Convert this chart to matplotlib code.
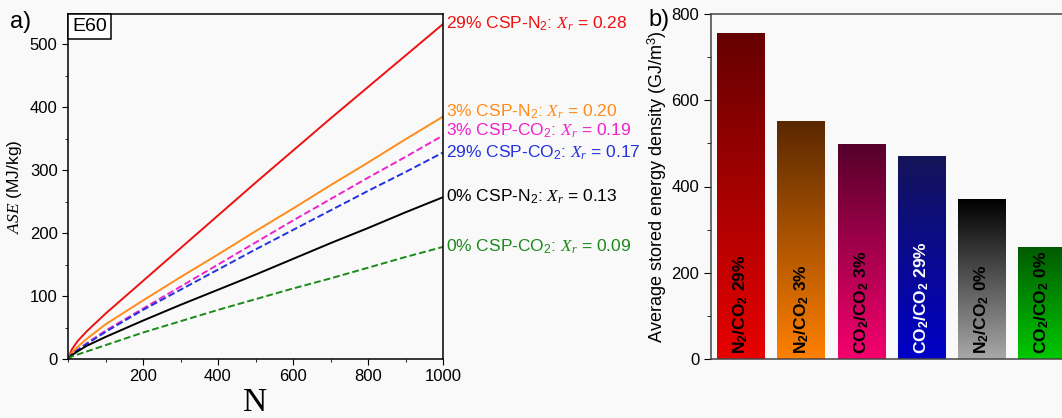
import numpy as np
import matplotlib
matplotlib.use('Agg')
import matplotlib.pyplot as plt
from matplotlib.colors import LinearSegmentedColormap
from matplotlib.ticker import MultipleLocator
from matplotlib.transforms import offset_copy

plt.rcParams['font.family'] = ['Liberation Sans', 'DejaVu Sans']
plt.rcParams['mathtext.fontset'] = 'custom'
plt.rcParams['mathtext.rm'] = 'Liberation Sans'
plt.rcParams['mathtext.bf'] = 'Liberation Sans:bold'
plt.rcParams['mathtext.it'] = 'Liberation Serif:italic'

# ---- panel a) data ----
N = [0, 10, 25, 50, 100, 200, 300, 400, 500, 600, 700, 800, 900, 1000]
ase_29_n2 = [0, 15, 28, 44, 72, 124, 176, 228, 280, 331, 382, 432, 482, 532]
ase_3_n2 = [0, 10, 19, 32, 55, 93, 130, 166, 203, 239, 276, 312, 349, 385]
ase_3_co2 = [0, 7, 14, 25, 45, 80, 115, 150, 185, 220, 254, 288, 321, 355]
ase_29_co2 = [0, 7, 14, 24, 43, 78, 110, 142, 174, 205, 236, 267, 297, 328]
ase_0_n2 = [0, 6, 12, 21, 35, 61, 86, 110, 134, 159, 184, 208, 233, 257]
ase_0_co2 = [0, 4, 7, 12, 22, 42, 60, 78, 95, 112, 128, 145, 162, 178]

series = [ase_29_n2, ase_3_n2, ase_3_co2, ase_29_co2, ase_0_n2, ase_0_co2]
line_colors = ['#ee1111', '#ff8c1a', '#ee22cc', '#2233dd', '#000000', '#1a8a1a']
line_styles = ['-', '-', '--', '--', '-', '--']
end_labels = ['29% CSP-N$_2$: $X_r$ = 0.28', '3% CSP-N$_2$: $X_r$ = 0.20',
              '3% CSP-CO$_2$: $X_r$ = 0.19', '29% CSP-CO$_2$: $X_r$ = 0.17',
              '0% CSP-N$_2$: $X_r$ = 0.13', '0% CSP-CO$_2$: $X_r$ = 0.09']
label_y = [532, 392, 363, 327, 257, 178]

# ---- panel b) data ----
bar_labels = [r'$\mathbf{N_2/CO_2}$ 29%', r'$\mathbf{N_2/CO_2}$ 3%',
              r'$\mathbf{CO_2/CO_2}$ 3%', r'$\mathbf{CO_2/CO_2}$ 29%',
              r'$\mathbf{N_2/CO_2}$ 0%', r'$\mathbf{CO_2/CO_2}$ 0%']
bar_values = [754, 550, 497, 469, 371, 259]
bar_top = ['#650000', '#5a2800', '#55002a', '#141458', '#000000', '#005a00']
bar_bottom = ['#e80000', '#ff8000', '#f5006e', '#0000c8', '#a8a8a8', '#00c800']
bar_text = ['black', 'black', 'black', 'white', 'black', 'black']

W, H = 1062, 418
fig = plt.figure(figsize=(W / 100, H / 100), dpi=100, facecolor='#f9f9f9')

def px_axes(x0, y0, x1, y1):
    return fig.add_axes([x0 / W, 1 - y1 / H, (x1 - x0) / W, (y1 - y0) / H])

# ---------------- a) ----------------
ax = px_axes(68, 14, 443, 359)
ax.set_facecolor('#f9f9f9')
for s, c, ls in zip(series, line_colors, line_styles):
    if ls == '--':
        ax.plot(N, s, color=c, lw=1.4, ls='--', dashes=(3.5, 1.6))
    else:
        ax.plot(N, s, color=c, lw=1.4)
ax.set_xlim(0, 1000)
ax.set_ylim(0, 548)
ax.set_xticks([200, 400, 600, 800, 1000])
ax.xaxis.set_minor_locator(MultipleLocator(100))
ax.yaxis.set_major_locator(MultipleLocator(100))
ax.yaxis.set_minor_locator(MultipleLocator(50))
ax.tick_params(which='both', direction='out', labelsize=12, top=False, right=False)
ax.tick_params(which='major', length=4)
ax.tick_params(which='minor', length=2.5)
for sp in ax.spines.values():
    sp.set_linewidth(1.1)
ax.set_xlabel('N', family='Liberation Serif', fontsize=24, labelpad=2)
ax.set_ylabel('$ASE$ (MJ/kg)', fontsize=12.5, labelpad=4)
tr = offset_copy(ax.transAxes, fig=fig, x=4, y=-4, units='dots')
ax.text(0.0, 1.0, 'E60', transform=tr, ha='left', va='top', fontsize=14,
        bbox=dict(boxstyle='square,pad=0.2', fc='white', ec='black', lw=1.1))
for lab, y, c in zip(end_labels, label_y, line_colors):
    ax.text(1008, y, lab, color=c, fontsize=12.5, ha='left', va='center', clip_on=False)
fig.text(10 / W, 1 - 22 / H, 'a)', fontsize=17, ha='left', va='center')

# ---------------- b) ----------------
bx = px_axes(711, 14, 1072, 359)
bx.set_facecolor('#f9f9f9')
pos = np.arange(1, len(bar_values) + 1)
width = 0.79
grad = np.linspace(0, 1, 256).reshape(-1, 1)
for p, v, ct, cb, lab, tc in zip(pos, bar_values, bar_top, bar_bottom, bar_labels, bar_text):
    cmap = LinearSegmentedColormap.from_list('g', [cb, ct])
    bx.imshow(grad, cmap=cmap, origin='lower', aspect='auto',
              extent=(p - width / 2, p + width / 2, 0, v), zorder=1)
    bx.text(p, 12, lab, rotation=90, ha='center', va='bottom', fontsize=12.5,
            fontweight='bold', color=tc, zorder=3)
bx.set_xlim(0.5, 6.5)
bx.set_ylim(0, 800)
bx.set_xticks([])
bx.yaxis.set_major_locator(MultipleLocator(200))
bx.yaxis.set_minor_locator(MultipleLocator(100))
bx.tick_params(which='both', direction='out', labelsize=12)
bx.tick_params(which='major', length=5)
bx.tick_params(which='minor', length=3)
bx.spines['right'].set_visible(False)
for sp in bx.spines.values():
    sp.set_linewidth(1.1)
    sp.set_color('#444444')
bx.set_ylabel('Average stored energy density (GJ/m$^3$)', fontsize=13, labelpad=2)
fig.text(648 / W, 1 - 20 / H, 'b)', fontsize=17, ha='left', va='center')

fig.savefig('out.png', dpi=100, facecolor=fig.get_facecolor())
